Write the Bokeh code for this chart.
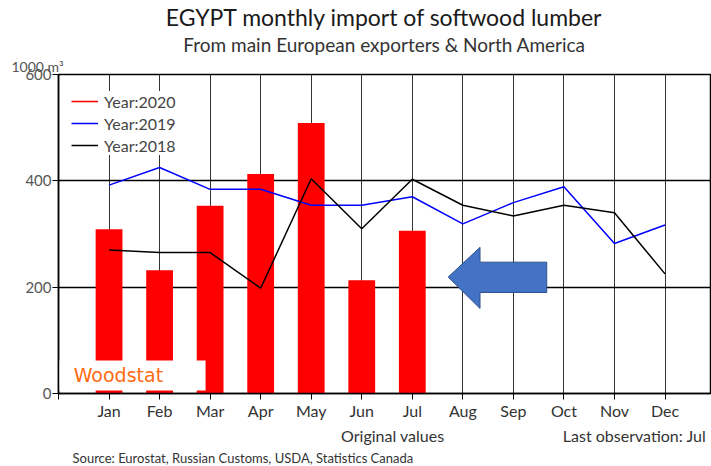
import math
from bokeh.plotting import figure
from bokeh.models import Label, Legend, LegendItem, FixedTicker, Range1d, Title
from bokeh.embed import file_html
from bokeh.resources import INLINE

months = ["Jan", "Feb", "Mar", "Apr", "May", "Jun", "Jul", "Aug", "Sep", "Oct", "Nov", "Dec"]
month_pos = list(range(1, 13))
y2020 = [309, 232, 353, 413, 509, 213, 306]
y2019 = [392, 425, 384, 384, 354, 354, 370, 319, 359, 389, 282, 317]
y2018 = [270, 265, 265, 198, 404, 310, 403, 354, 334, 354, 340, 225]
y_ticks = [0, 200, 400, 600]

# decorative arrow (annotation, in data units)
arrow_x = [7.71, 8.34, 8.34, 9.66, 9.66, 8.34, 8.34]
arrow_y = [219, 275, 247, 247, 190, 190, 160]

FONT = "Lato"
NBSP = "\u00a0"

p = figure(width=711, height=466, output_backend="svg", toolbar_location=None,
           x_range=Range1d(0, 12.9), y_range=Range1d(0, 600),
           min_border_left=58, min_border_right=1, min_border_top=74, min_border_bottom=73,
           background_fill_color="white", border_fill_color="white")
p.outline_line_color = "black"
p.outline_line_width = 1.5

# grids
p.xgrid.ticker = FixedTicker(ticks=month_pos)
p.xgrid.grid_line_color = "#333333"
p.xgrid.grid_line_width = 1
p.ygrid.ticker = FixedTicker(ticks=[200, 400])
p.ygrid.grid_line_color = "black"
p.ygrid.grid_line_width = 1.5

# axes
p.xaxis.ticker = FixedTicker(ticks=[0] + month_pos)
p.xaxis.major_label_overrides = {0: ""} | {i + 1: m for i, m in enumerate(months)}
p.xaxis.major_label_text_font = FONT
p.xaxis.major_label_text_font_size = "16px"
p.xaxis.major_label_text_color = "#333333"
p.xaxis.major_tick_out = 6
p.xaxis.major_tick_in = 0
p.xaxis.minor_tick_line_color = None
p.xaxis.axis_line_width = 1.5
p.xaxis.major_label_standoff = 1

p.yaxis.ticker = FixedTicker(ticks=y_ticks)
p.yaxis.major_label_text_font = FONT
p.yaxis.major_label_text_font_size = "15px"
p.yaxis.major_label_text_color = "#555555"
p.yaxis.major_tick_out = 6
p.yaxis.major_tick_in = 0
p.yaxis.minor_tick_line_color = None
p.yaxis.axis_line_width = 1.5
p.yaxis.major_label_standoff = 1

# bars 2020
p.vbar(x=month_pos[:len(y2020)], top=y2020, width=0.53, bottom=0,
       fill_color="#ff0000", line_color=None)
# lines
l19 = p.line(month_pos, y2019, line_color="#0000ff", line_width=1.5)
l18 = p.line(month_pos, y2018, line_color="black", line_width=1.5)
# legend proxy for 2020 (shown as a red line, no visible data)
r20 = p.line(month_pos[:1], [math.nan], line_color="#ff0000", line_width=1.5)

# arrow
p.patch(arrow_x, arrow_y, fill_color="#4472c4", line_color="#2f528f", line_width=1)

# Woodstat box
p.quad(left=0, right=2.91, bottom=5.7, top=62, fill_color="white", line_color=None)
p.add_layout(Label(x=0.30, y=34, text="Woodstat", text_font="DejaVu Sans", text_font_size="19px",
                   text_color="#ff6a13", text_baseline="middle", text_align="left"))

legend = Legend(items=[LegendItem(label="Year:2020", renderers=[r20]),
                       LegendItem(label="Year:2019", renderers=[l19]),
                       LegendItem(label="Year:2018", renderers=[l18])],
                location=(13, 238), padding=10, spacing=2, glyph_width=27, glyph_height=20,
                label_height=20, label_standoff=6, label_text_font=FONT,
                label_text_font_size="16px", label_text_color="#444444",
                background_fill_color="white", background_fill_alpha=1.0,
                border_line_color=None, margin=0)
p.add_layout(legend, "center")

# titles above (stacked outward from the frame)
p.add_layout(Title(text="1000 m³", align="left", offset=-47, standoff=0, text_font=FONT,
                   text_font_size="14px", text_font_style="normal", text_color="#555555"), "above")
p.add_layout(Title(text="From main European exporters & North America", align="center", offset=-2,
                   standoff=0, text_font=FONT, text_font_size="19px", text_font_style="normal",
                   text_color="#333333"), "above")
p.add_layout(Title(text="EGYPT monthly import of softwood lumber", align="center", offset=-7,
                   standoff=0, text_font=FONT, text_font_size="23px", text_font_style="normal",
                   text_color="#1a1a1a"), "above")

# texts below (stacked outward from the axis)
bottom_row = "Original values" + NBSP * 29 + "Last observation: Jul"
p.add_layout(Title(text=bottom_row, align="right", offset=4, standoff=3, text_font=FONT,
                   text_font_size="16px", text_font_style="normal", text_color="#333333"), "below")
p.add_layout(Title(text="Source: Eurostat, Russian Customs, USDA, Statistics Canada", align="left",
                   offset=14, standoff=2, text_font=FONT, text_font_size="13px",
                   text_font_style="normal", text_color="#333333"), "below")

open("out.html", "w").write(file_html(p, INLINE))
